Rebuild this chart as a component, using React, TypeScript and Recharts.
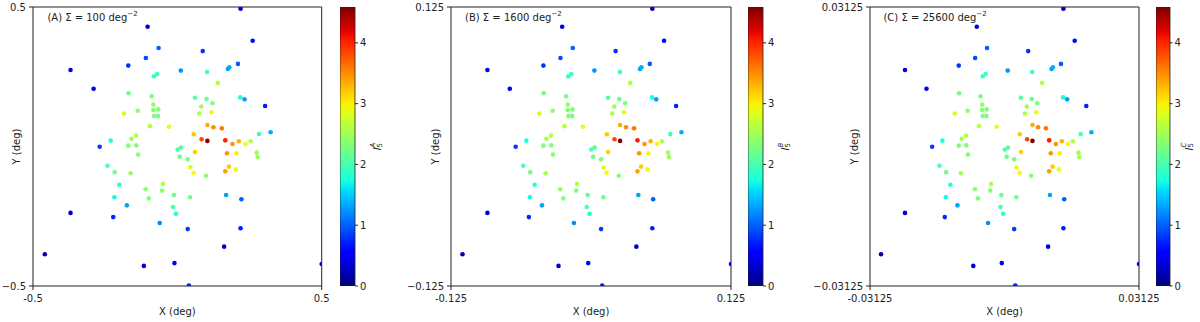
import React from 'react';
import { ScatterChart, Scatter, XAxis, YAxis, ReferenceArea, BarChart, Bar } from 'recharts';

// positions in panel (A) units (deg); panels B and C show the same pattern at higher density
const POINT_X = [
  0.219, -0.103, 0.261, -0.065, 0.088, -0.370, -0.109, -0.170, 0.012, -0.070,
  -0.081, -0.290, -0.169, -0.089, -0.083, -0.137, -0.083, -0.066, -0.185, -0.081,
  -0.067, -0.095, -0.029, -0.231, -0.159, -0.143, -0.269, -0.170, -0.142, 0.001,
  0.013, 0.103, 0.175, 0.180, 0.210, 0.140, 0.061, 0.101, 0.122, 0.218,
  0.233, 0.304, 0.083, 0.076, 0.118, 0.104, 0.125, 0.154, 0.057, 0.084,
  0.104, 0.166, 0.191, 0.213, 0.236, 0.254, 0.283, 0.323, -0.136, 0.008,
  -0.242, -0.217, -0.162, -0.201, -0.050, -0.110, -0.053, -0.099, -0.012, -0.218,
  -0.175, -0.015, -0.005, -0.370, -0.222, -0.061, -0.459, -0.116, -0.010, 0.061,
  0.036, 0.172, 0.205, 0.275, 0.278, 0.045, 0.056, 0.099, 0.179, 0.166,
  0.202, 0.044, 0.169, 0.222, 0.036, 0.219, 0.162, 0.500, 0.040,
];
const POINT_Y = [
  0.494, 0.429, 0.379, 0.353, 0.342, 0.274, 0.317, 0.290, 0.272, 0.260,
  0.252, 0.207, 0.191, 0.180, 0.150, 0.128, 0.131, 0.133, 0.118, 0.109,
  0.109, 0.073, 0.071, 0.021, 0.028, 0.039, -0.001, 0.003, 0.004, -0.011,
  -0.004, 0.267, 0.278, 0.284, 0.296, 0.228, 0.175, 0.170, 0.155, 0.176,
  0.169, 0.145, 0.143, 0.118, 0.123, 0.077, 0.069, 0.065, 0.044, 0.026,
  0.020, 0.022, 0.009, 0.019, 0.009, 0.019, 0.045, 0.051, -0.029, -0.037,
  -0.069, -0.092, -0.096, -0.137, -0.134, -0.153, -0.158, -0.186, -0.174, -0.182,
  -0.211, -0.217, -0.241, -0.238, -0.253, -0.274, -0.386, -0.428, -0.418, -0.020,
  -0.046, -0.024, -0.024, -0.022, -0.038, -0.075, -0.094, -0.105, -0.072, -0.089,
  -0.082, -0.182, -0.174, -0.189, -0.296, -0.293, -0.359, -0.421, -0.498,
];
const VALUES = [
  0.3, 0.35, 0.6, 1.0, 0.8, 0.4, 0.9, 0.8, 1.25, 1.95,
  1.9, 0.45, 2.2, 2.3, 2.45, 2.4, 2.3, 2.35, 2.8, 2.35,
  2.25, 2.65, 2.85, 1.8, 2.5, 2.6, 0.85, 2.3, 2.35, 2.0,
  2.1, 1.95, 1.3, 1.35, 1.0, 2.6, 2.05, 2.15, 2.3, 1.75,
  1.3, 0.7, 2.5, 2.55, 2.9, 3.35, 3.5, 3.6, 3.2, 3.85,
  4.55, 4.05, 3.45, 3.3, 2.95, 2.6, 1.95, 1.35, 2.35, 2.2,
  2.05, 2.25, 2.5, 1.8, 2.6, 2.4, 2.35, 2.3, 2.2, 1.7,
  1.3, 2.0, 1.8, 0.35, 0.75, 1.2, 0.15, 0.35, 0.45, 3.15,
  2.3, 3.45, 3.0, 2.5, 2.5, 2.85, 2.95, 2.35, 3.2, 3.4,
  2.9, 2.25, 1.3, 1.0, 0.85, 0.7, 0.3, 0.3, 0.7,
];

const PANEL_LETTERS = ['A', 'B', 'C'];
const DENSITIES = ['100', '1600', '25600'];
const HALF_WIDTHS = [0.5, 0.125, 0.03125];
const X_TICK_LABELS = [['-0.5', '0.5'], ['-0.125', '0.125'], ['-0.03125', '0.03125']];
const Y_TICK_LABELS = [['\u22120.5', '0.5'], ['\u22120.125', '0.125'], ['\u22120.03125', '0.03125']];
const CB_TICKS = [0, 1, 2, 3, 4];
const VMAX = 4.59;

// layout, in page pixels
const LAYOUT = [
  { left: 33.3, right: 322, cbLeft: 340, cbRight: 355, cbLabelDx: 22 },
  { left: 450.7, right: 730.7, cbLeft: 748, cbRight: 763, cbLabelDx: 22 },
  { left: 870, right: 1139, cbLeft: 1155.5, cbRight: 1169, cbLabelDx: 19 },
];
const TOP = 7;
const BOTTOM = 286;
const H = 322;
const FONT = '"DejaVu Sans", sans-serif';
const INK = '#222';

const JET_R = [[0, 0], [0.35, 0], [0.66, 1], [0.89, 1], [1, 0.5]];
const JET_G = [[0, 0], [0.125, 0], [0.375, 1], [0.64, 1], [0.91, 0], [1, 0]];
const JET_B = [[0, 0.5], [0.11, 1], [0.34, 1], [0.65, 0], [1, 0]];

function lerp(pts: number[][], t: number) {
  for (let i = 1; i < pts.length; i++) {
    if (t <= pts[i][0]) {
      const [x0, y0] = pts[i - 1];
      const [x1, y1] = pts[i];
      return y0 + ((t - x0) / (x1 - x0)) * (y1 - y0);
    }
  }
  return pts[pts.length - 1][1];
}

function jet(t: number) {
  const c = Math.max(0, Math.min(1, t));
  const r = Math.round(lerp(JET_R, c) * 255);
  const g = Math.round(lerp(JET_G, c) * 255);
  const b = Math.round(lerp(JET_B, c) * 255);
  return `rgb(${r},${g},${b})`;
}

const tickStyle = { fontSize: 10, fill: INK, fontFamily: FONT };

function Panel({ idx }: { idx: number }) {
  const lay = LAYOUT[idx];
  const h = HALF_WIDTHS[idx];
  const scale = h / HALF_WIDTHS[0];
  const data = POINT_X.map((x, i) => ({ x: x * scale, y: POINT_Y[i] * scale, v: VALUES[i] }));
  const YW = 70;
  const XH = H - BOTTOM;
  const MR = 30;
  const CBW = 45;
  const plotW = lay.right - lay.left;
  const cbW = lay.cbRight - lay.cbLeft;
  const letter = PANEL_LETTERS[idx];

  // labels are placed relative to the plot area (the axis' own viewBox)
  const yLabel = (props: any) => {
    const vb = props.viewBox;
    const cx = vb.x + vb.width - 16;
    const cy = vb.y + vb.height / 2;
    return (
      <text x={cx} y={cy} transform={`rotate(-90 ${cx} ${cy})`} textAnchor="middle" dominantBaseline="central"
        fontSize={10} fontFamily={FONT} fill={INK}>Y (deg)</text>
    );
  };
  const xLabel = (props: any) => {
    const vb = props.viewBox;
    return (
      <text x={vb.x + vb.width / 2} y={vb.y + 29} textAnchor="middle" fontSize={10} fontFamily={FONT} fill={INK}>X (deg)</text>
    );
  };
  const title = (props: any) => {
    const vb = props.viewBox;
    return (
      <text x={vb.x + vb.width * 0.05} y={vb.y + vb.height * 0.05} fontSize={10} fontFamily={FONT} fill={INK}>
        ({letter}) Σ = {DENSITIES[idx]} deg<tspan fontSize={7} dy={-4.5}>−2</tspan>
      </text>
    );
  };
  const cbLabel = (props: any) => {
    const vb = props.viewBox;
    const cx = vb.x + lay.cbLabelDx;
    const cy = vb.y + vb.height / 2;
    return (
      <text x={cx} y={cy} transform={`rotate(-90 ${cx} ${cy})`} textAnchor="middle" dominantBaseline="central"
        fontSize={10} fontFamily={FONT} fill={INK}>
        <tspan fontStyle="italic">I</tspan>
        <tspan fontSize={7} dy={2.5}>5</tspan>
        <tspan fontSize={7} fontStyle="italic" dx={-4.5} dy={-7}>{letter}</tspan>
      </text>
    );
  };

  return (
    <>
      <div style={{ position: 'absolute', left: lay.left - YW, top: 0 }}>
        <ScatterChart width={plotW + YW + MR} height={H} margin={{ top: TOP, right: MR, bottom: 0, left: 0 }}>
          <XAxis type="number" dataKey="x" domain={[-h, h]} ticks={[-h, h]} interval={0} allowDataOverflow
            tickFormatter={(v: number) => X_TICK_LABELS[idx][v < 0 ? 0 : 1]}
            height={XH} axisLine={false} tickSize={4} tickMargin={5} stroke={INK} tick={tickStyle}
            label={{ content: xLabel }} />
          <YAxis type="number" dataKey="y" domain={[-h, h]} ticks={[-h, h]} interval={0} allowDataOverflow
            tickFormatter={(v: number) => Y_TICK_LABELS[idx][v < 0 ? 0 : 1]}
            width={YW} axisLine={false} tickSize={4} tickMargin={3} stroke={INK} tick={tickStyle}
            label={{ content: yLabel }} />
          <ReferenceArea x1={-h} x2={h} y1={-h} y2={h} fill="none" stroke={INK} strokeWidth={1}
            ifOverflow="visible" label={{ content: title }} />
          <Scatter data={data} isAnimationActive={false}
            shape={(pr: any) => <circle cx={pr.cx} cy={pr.cy} r={2.3} fill={jet(pr.payload.v / VMAX)} />} />
        </ScatterChart>
      </div>
      <div style={{ position: 'absolute', left: lay.cbLeft, top: 0 }}>
        <BarChart width={cbW + CBW} height={H} data={[{ name: 'cb', v: VMAX }]} barCategoryGap={0}
          margin={{ top: TOP, right: 0, bottom: H - BOTTOM, left: 0 }}>
          <defs>
            <linearGradient id={`jet${idx}`} x1="0" y1="1" x2="0" y2="0">
              {Array.from({ length: 41 }, (_, k) => (
                <stop key={k} offset={k / 40} stopColor={jet(k / 40)} />
              ))}
            </linearGradient>
          </defs>
          <XAxis dataKey="name" hide />
          <YAxis orientation="right" type="number" domain={[0, VMAX]} ticks={CB_TICKS} interval={0} allowDataOverflow
            width={CBW} axisLine={false} tickSize={3} tickMargin={2} stroke={INK} tick={tickStyle}
            label={{ content: cbLabel }} />
          <Bar dataKey="v" fill={`url(#jet${idx})`} stroke={INK} strokeWidth={0.8} isAnimationActive={false} />
        </BarChart>
      </div>
    </>
  );
}

export default function App() {
  return (
    <div style={{ position: 'absolute', left: 0, top: 0, width: 1200, height: H, background: '#fff', fontFamily: FONT }}>
      {PANEL_LETTERS.map((_, i) => <Panel key={i} idx={i} />)}
    </div>
  );
}
